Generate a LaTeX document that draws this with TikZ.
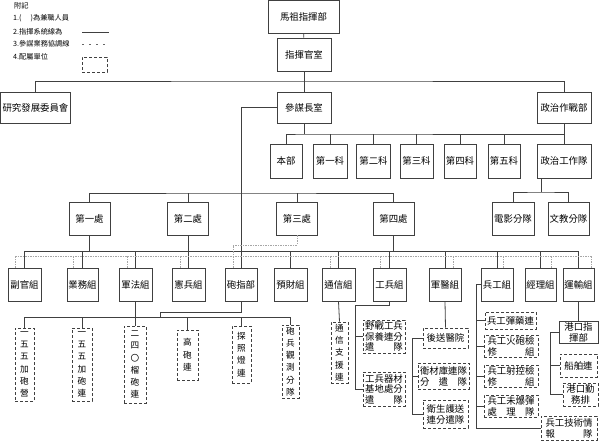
\documentclass[tikz,border=0pt]{standalone}
\usepackage{fontspec}
\newfontfamily\cjk{Noto Sans CJK TC}
\tikzset{
  unit/.style={draw=black!75, line width=0.8pt, inner sep=1pt, align=center,
    font=\cjk\fontsize{9.4}{11}\selectfont},
  attached/.style={unit, dash pattern=on 3pt off 2pt},
  vtext/.style={attached, font=\cjk\fontsize{8.6}{12.3}\selectfont},
  boxsize/.style 2 args={minimum width=#1, minimum height=#2},
  link/.style={draw=black!75, line width=0.8pt},
  coord/.style={draw=black!35, line width=0.6pt, dash pattern=on 1.5pt off 1pt},
  legend/.style={anchor=west, inner sep=0pt, font=\cjk\fontsize{7.2}{8}\selectfont},
}
\begin{document}
\begin{tikzpicture}[x=1pt,y=-1pt]
\useasboundingbox (0,0) rectangle (600,440);

% 附記
\node[legend] (fuji) at (14,6) {附記};
\node[legend] (leg1) at (13,18) {1.(\hspace{9pt})為兼職人員};
\node[legend] (leg2) at (13,32) {2.指揮系統線為};
\node[legend] (leg3) at (13,44) {3.參謀業務協調線};
\node[legend] (leg4) at (13,57) {4.配屬單位};
\coordinate (l2a) at (82,32); \coordinate (l2b) at (109,32);
\draw[link] (l2a) -- (l2b);
\coordinate (l3a) at (82,44); \coordinate (l3b) at (109,44);
\draw[black!60, line width=0.6pt, dash pattern=on 2pt off 5pt] (l3a) -- (l3b);
\node[attached, boxsize={25}{15}] (legbox) at (94.5,64.5) {};

% 指揮部
\node[unit, boxsize={71}{33}] (mazu) at (303.5,17) {馬祖指揮部};
\node[unit, boxsize={54}{33}] (zhg) at (304,54.5) {指揮官室};
\node[unit, boxsize={70}{31}] (yanfa) at (35.5,107.5) {研究發展委員會};
\node[unit, boxsize={54}{31}] (csz) at (304,107.5) {參謀長室};
\node[unit, boxsize={54}{31}] (zzb) at (564,107.5) {政治作戰部};

% 各科
\node[unit, boxsize={32}{34}] (benbu) at (286,161) {本部};
\node[unit, boxsize={34}{34}] (ke1) at (330,161) {第一科};
\node[unit, boxsize={34}{34}] (ke2) at (373.5,161) {第二科};
\node[unit, boxsize={33}{34}] (ke3) at (416.5,161) {第三科};
\node[unit, boxsize={32}{34}] (ke4) at (460,161) {第四科};
\node[unit, boxsize={32}{34}] (ke5) at (504,161) {第五科};
\node[unit, boxsize={54}{34}] (zzgz) at (564,161) {政治工作隊};
\node[unit, boxsize={42}{33}] (dianying) at (513,218.5) {電影分隊};
\node[unit, boxsize={41}{33}] (wenjiao) at (568.5,218.5) {文教分隊};

% 各處
\node[unit, boxsize={41}{33}] (chu1) at (89.5,218.5) {第一處};
\node[unit, boxsize={41}{33}] (chu2) at (188,218.5) {第二處};
\node[unit, boxsize={41}{33}] (chu3) at (297,218.5) {第三處};
\node[unit, boxsize={41}{33}] (chu4) at (393.5,218.5) {第四處};

% 各組
\node[unit, boxsize={33}{33}] (fuguan) at (24.5,284.5) {副官組};
\node[unit, boxsize={31}{33}] (yewu) at (82.5,284.5) {業務組};
\node[unit, boxsize={33}{33}] (junfa) at (135.5,284.5) {軍法組};
\node[unit, boxsize={33}{33}] (xianbing) at (188.5,284.5) {憲兵組};
\node[unit, boxsize={32}{33}] (paozhi) at (241,284.5) {砲指部};
\node[unit, boxsize={33}{33}] (yucai) at (290.5,284.5) {預財組};
\node[unit, boxsize={33}{33}] (tongxin) at (338.5,284.5) {通信組};
\node[unit, boxsize={33}{33}] (gongbing) at (389.5,284.5) {工兵組};
\node[unit, boxsize={32}{33}] (junyi) at (445,284.5) {軍醫組};
\node[unit, boxsize={32}{33}] (binggong) at (497,284.5) {兵工組};
\node[unit, boxsize={31}{33}] (jingli) at (540.5,284.5) {經理組};
\node[unit, boxsize={31}{33}] (yunshu) at (578.5,284.5) {運輸組};

% 砲指部所屬
\node[vtext, boxsize={19}{73}] (pao1) at (24.5,364.5) {一\\五\\五\\加\\砲\\營};
\node[vtext, boxsize={20}{73}] (pao2) at (82,364.5) {一\\五\\五\\加\\砲\\連};
\node[vtext, boxsize={22}{77}] (pao3) at (135,364.5) {二\\四\\〇\\榴\\砲\\連};
\node[vtext, boxsize={21}{50}] (gaopao) at (187.5,355) {高\\砲\\連};
\node[vtext, boxsize={19}{57}] (tanzhao) at (241.5,354.5) {探\\照\\燈\\連};
\node[vtext, boxsize={17}{73}] (guance) at (290.5,361.5) {砲\\兵\\觀\\測\\分\\隊};
\node[vtext, boxsize={17}{61}] (tongzhi) at (339.5,352.5) {通\\信\\支\\援\\連};

% 工兵組、軍醫組所屬
\node[attached, boxsize={42}{33}, font=\cjk\fontsize{9.4}{10.5}\selectfont] (yezhan) at (384,336.5) {野戰工兵\\保養連分\\遣　　隊};
\node[attached, boxsize={42}{34}, font=\cjk\fontsize{9.4}{10.5}\selectfont] (qicai) at (384,389) {工兵器材\\基地處分\\遣　　隊};
\node[attached, boxsize={45}{20}] (housong) at (445.5,338) {後送醫院};
\node[attached, boxsize={51}{26}] (weicai) at (443.5,376) {衛材庫連隊\\分　遣　隊};
\node[attached, boxsize={45}{28}] (weisheng) at (445.5,414) {衛生護送\\連分遣隊};

% 兵工組、運輸組所屬
\node[attached, boxsize={51}{17}] (danyao) at (510.5,320.5) {兵工彈藥連};
\node[attached, boxsize={54}{22}] (huopao) at (511,346) {兵工火砲檢\\修　　　組};
\node[attached, boxsize={54}{22}] (shekong) at (511,376) {兵工射控檢\\修　　　組};
\node[attached, boxsize={54}{22}] (weibao) at (511,406) {兵工未爆彈\\處　理　隊};
\node[attached, boxsize={56}{24}] (jishu) at (569,428) {兵工技術情\\報　　　隊};
\node[unit, boxsize={39}{22}] (gangkou) at (578.5,332) {港口指\\揮部};
\node[attached, boxsize={37}{23}] (chuanbo) at (578.5,365.5) {船舶連};
\node[attached, boxsize={35}{23}] (qinwu) at (580.5,394.5) {港口勤\\務排};

% 指揮系統線
\coordinate (topbar) at (304,81);
\coordinate (kebar) at (304,134);
\coordinate (chubar) at (241,193);
\coordinate (zubar) at (0,251);
\coordinate (paobar) at (0,317);
\draw[link] (mazu) -- (zhg);
\draw[link] (zhg) -- (csz);
\draw[link] (yanfa.north) |- (topbar) -| (zzb.north);
\draw[link] (csz.south) -- (kebar);
\draw[link] (benbu.north) |- (kebar) -| (zzgz.north);
\draw[link] (zzb.south) -- (zzgz.north);
\foreach \n in {ke1,ke2,ke3,ke4,ke5}
  \draw[link] (\n.north) -- (\n.north |- kebar);
\coordinate (zzfork) at (541,192);
\draw[link] (zzfork |- zzgz.south) -- (zzfork);
\draw[link] (dianying.north) |- (zzfork) -| (wenjiao.north);

\draw[link] (csz.west) -| (paozhi.north);
\draw[link] (chu1.north) |- (chubar) -| (chu4.north);
\foreach \n in {chu2,chu3}
  \draw[link] (\n.north) -- (\n.north |- chubar);
\draw[link] (fuguan.north |- zubar) -- (yunshu.north |- zubar);
\foreach \n in {chu1,chu2,chu4}
  \draw[link] (\n.south) -- (\n.south |- zubar);
\foreach \n in {fuguan,yewu,junfa,xianbing,yucai,tongxin,gongbing,junyi,binggong,jingli,yunshu}
  \draw[link] (\n.north) -- (\n.north |- zubar);

\coordinate (paojog) at (160,312);
\draw[link] (pao1.north |- paobar) -- (guance.north |- paobar);
\draw[link] (paozhi.south) |- (paojog) -- (paojog |- paobar);
\draw[link] (junfa.south) -- (junfa.south |- paobar);
\foreach \n in {pao1,pao2,pao3,gaopao,tanzhao,guance}
  \draw[link] (\n.north) -- (\n.north |- paobar);
\draw[link] (tongxin.south) -- (tongzhi.north);

\coordinate (gbtrunk) at (355,305);
\draw[link] (gongbing.south) |- (gbtrunk) |- (qicai.west);
\draw[link] (gbtrunk |- yezhan.west) -- (yezhan.west);
\coordinate (jytrunk) at (412,338);
\draw[link] (junyi.south) -- (housong.north);
\draw[link] (housong.west) -- (jytrunk) |- (weisheng.west);
\draw[link] (jytrunk |- weicai.west) -- (weicai.west);
\coordinate (bgtrunk) at (476,284.5);
\draw[link] (binggong.west) -- (bgtrunk) |- (jishu.west);
\foreach \n in {danyao,huopao,shekong,weibao}
  \draw[link] (bgtrunk |- \n.west) -- (\n.west);
\coordinate (ystrunk) at (550,332);
\draw[link] (yunshu.south) -- (gangkou.north);
\draw[link] (gangkou.west) -- (ystrunk) |- (qinwu.west);
\draw[link] (ystrunk |- chuanbo.west) -- (chuanbo.west);

% 參謀業務協調線
\coordinate (chu3bend) at (233,245);
\coordinate (gbarL) at (15,256);
\coordinate (gbarR) at (592,256);
\draw[coord] (chu3.south) |- (chu3bend) -- ([xshift=-8pt]paozhi.north);
\draw[coord] (gbarL) -- (gbarR);
\foreach \n/\dx in {fuguan/-9.5,yewu/-9.5,junfa/-8.5,xianbing/-8.5,tongxin/-8.5,gongbing/-9,junyi/8,binggong/6,jingli/11,yunshu/13}
  \draw[coord] ([xshift=\dx pt]\n.north) -- ++(0,-12);

\end{tikzpicture}
\end{document}
